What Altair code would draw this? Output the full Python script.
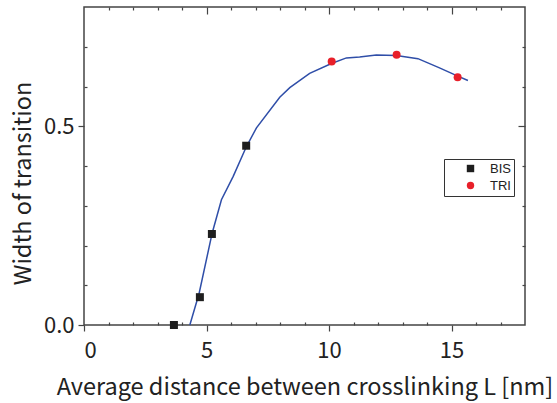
import altair as alt
import pandas as pd

# ---- data ----
bis_x = [3.67, 4.73, 5.22, 6.62]
bis_y = [0.0, 0.07, 0.229, 0.451]
tri_x = [10.11, 12.76, 15.25]
tri_y = [0.663, 0.68, 0.623]
fit_x = [4.32, 4.70, 5.23, 5.61, 6.09, 6.63, 7.04, 7.99, 8.40, 9.21, 10.10,
         10.71, 11.25, 11.93, 12.75, 13.63, 14.51, 15.19, 15.67]
fit_y = [0.0, 0.08, 0.231, 0.315, 0.374, 0.449, 0.496, 0.573, 0.597, 0.633, 0.658,
         0.672, 0.674, 0.679, 0.678, 0.670, 0.647, 0.628, 0.615]
series_names = ["BIS", "TRI"]
x_major = [0, 5, 10, 15]
x_minor = [1, 2, 3, 4, 6, 7, 8, 9, 11, 12, 13, 14, 16, 17]
y_major = [0.0, 0.5]
y_minor = [0.1, 0.2, 0.3, 0.4, 0.6, 0.7]

pts = pd.DataFrame({
    "x": bis_x + tri_x,
    "y": bis_y + tri_y,
    "s": [series_names[0]] * len(bis_x) + [series_names[1]] * len(tri_x),
})
fit = pd.DataFrame({"x": fit_x, "y": fit_y})

FONT = "Noto Sans CJK JP"
TICK = "#444444"
xs = alt.Scale(domain=[0, 18], nice=False, zero=False)
ys = alt.Scale(domain=[0, 0.8], nice=False, zero=False)

common = dict(domain=False, grid=False, tickColor=TICK, tickWidth=1.2)

x_bot_major = alt.Axis(orient="bottom", values=x_major, tickSize=6, labelFont=FONT,
                       labelFontSize=22, labelColor="#222222", labelPadding=9,
                       title="Average distance between crosslinking L [nm]",
                       titleFont=FONT, titleFontSize=23.5, titleFontWeight="normal",
                       titleColor="#222222", titleY=69, titleBaseline="alphabetic",
                       **common)
y_left_major = alt.Axis(orient="left", values=y_major, tickSize=6, format=".1f",
                        labelFont=FONT, labelFontSize=22, labelColor="#222222",
                        labelPadding=4, title="Width of transition", titleFont=FONT,
                        titleFontSize=23.5, titleFontWeight="normal", titleColor="#222222",
                        titleX=-54, titleY=176, titleAngle=-90,
                        titleBaseline="alphabetic", **common)

def tick_axis(orient, vals, size):
    return alt.Axis(orient=orient, values=vals, tickSize=size, offset=-size,
                    labels=False, title=None, **common)

def ghost(xaxis, yaxis):
    return alt.Chart(pts).mark_point(opacity=0).encode(
        x=alt.X("x:Q", scale=xs, axis=xaxis),
        y=alt.Y("y:Q", scale=ys, axis=yaxis),
    )

layer_minor_bl = ghost(tick_axis("bottom", x_minor, 3), tick_axis("left", y_minor, 3))
layer_major_tr = ghost(tick_axis("top", x_major[1:], 7), tick_axis("right", y_major[1:], 7))
layer_minor_tr = ghost(tick_axis("top", x_minor, 3), tick_axis("right", y_minor, 3))

line = alt.Chart(fit).mark_line(color="#2f4ea8", strokeWidth=1.5).encode(
    x=alt.X("x:Q", scale=xs, axis=x_bot_major),
    y=alt.Y("y:Q", scale=ys, axis=y_left_major),
)

leg = alt.Legend(orient="none", legendX=360, legendY=152, title=None,
                 strokeColor="#333333", fillColor="white", padding=3,
                 symbolOffset=17, labelOffset=13, rowPadding=3,
                 labelFont="Liberation Sans", labelFontSize=13, labelColor="#222222",
                 symbolSize=55, symbolStrokeWidth=0)

points = alt.Chart(pts).mark_point(filled=True, size=64, opacity=1).encode(
    x=alt.X("x:Q", scale=xs, axis=None),
    y=alt.Y("y:Q", scale=ys, axis=None),
    color=alt.Color("s:N", scale=alt.Scale(domain=series_names,
                                           range=["#1e1e1e", "#e8202a"]), legend=leg),
    shape=alt.Shape("s:N", scale=alt.Scale(domain=series_names,
                                           range=["square", "circle"]), legend=leg),
)

chart = alt.layer(line, points, layer_minor_bl, layer_major_tr, layer_minor_tr).resolve_axis(
    x="independent", y="independent"
).properties(
    width=441, height=318,
    autosize=alt.AutoSizeParams(type="none"),
    padding={"left": 84, "top": 7, "right": 32, "bottom": 78},
    background="white",
).configure_view(stroke="#444444", strokeWidth=1.5)

chart.save("out.html", embed_options={"renderer": "svg", "actions": False})
